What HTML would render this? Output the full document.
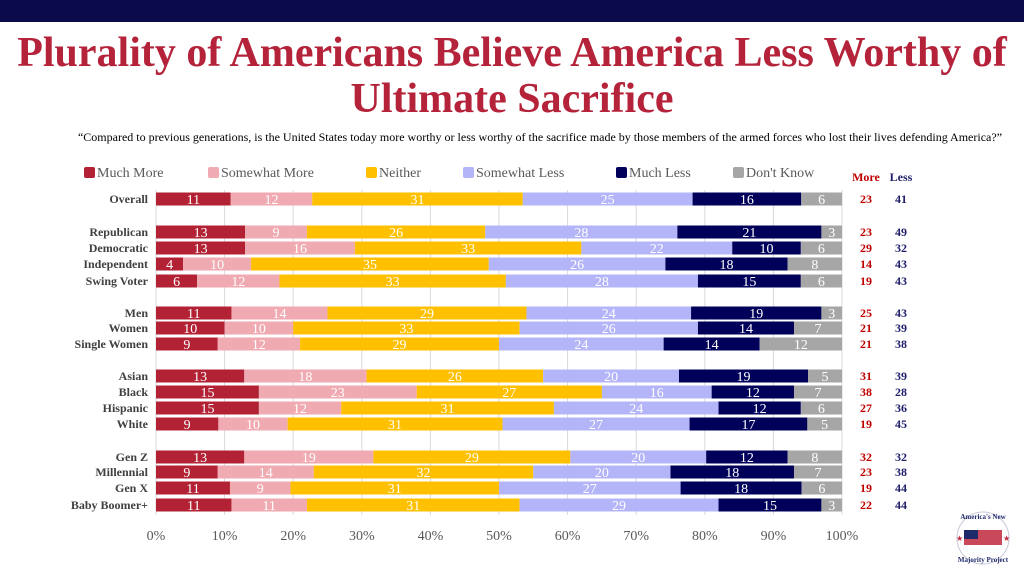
<!DOCTYPE html>
<html><head><meta charset="utf-8">
<style>
body{margin:0;width:1024px;height:576px;overflow:hidden;background:#fff;font-family:"Liberation Serif",serif;position:relative}
#topbar{position:absolute;left:0;top:0;width:1024px;height:22px;background:#0b0b4b}
#title{position:absolute;left:0;top:30px;width:1024px;text-align:center;color:#b5233a;font-weight:bold;font-size:42px;line-height:46px;white-space:nowrap}
#subtitle{position:absolute;left:28px;top:130px;width:1024px;text-align:center;font-size:12px;color:#000;white-space:nowrap}
svg{position:absolute;left:0;top:0}
</style></head><body>
<div id="topbar"></div>
<div id="title">Plurality of Americans Believe America Less Worthy of<br>Ultimate Sacrifice</div>
<div id="subtitle">“Compared to previous generations, is the United States today more worthy or less worthy of the sacrifice made by those members of the armed forces who lost their lives defending America?”</div>
<svg id="chart" width="1024" height="576"></svg>
<script>
const categories=["Overall","Republican","Democratic","Independent","Swing Voter","Men","Women","Single Women","Asian","Black","Hispanic","White","Gen Z","Millennial","Gen X","Baby Boomer+"];
const rowY=[199,232,248,264,281,313,328,344,376,392,408,424,457,472,488,505];
const seriesNames=["Much More","Somewhat More","Neither","Somewhat Less","Much Less","Don't Know"];
const muchMore=[11,13,13,4,6,11,10,9,13,15,15,9,13,9,11,11];
const somewhatMore=[12,9,16,10,12,14,10,12,18,23,12,10,19,14,9,11];
const neither=[31,26,33,35,33,29,33,29,26,27,31,31,29,32,31,31];
const somewhatLess=[25,28,22,26,28,24,26,24,20,16,24,27,20,20,27,29];
const muchLess=[16,21,10,18,15,19,14,14,19,12,12,17,12,18,18,15];
const dontKnow=[6,3,6,8,6,3,7,12,5,7,6,5,8,7,6,3];
const moreTotals=[23,23,29,14,19,25,21,21,31,38,27,19,32,23,19,22];
const lessTotals=[41,49,32,43,43,43,39,38,39,28,36,45,32,38,44,44];
const tickLabels=["0%","10%","20%","30%","40%","50%","60%","70%","80%","90%","100%"];
const colors=["#b22234","#f0aab2","#ffc000","#b4b4f8","#00005a","#a6a6a6"];
const series=[muchMore,somewhatMore,neither,somewhatLess,muchLess,dontKnow];
const svg=document.getElementById('chart');
const NS="http://www.w3.org/2000/svg";
const x0=156,x1=842;
const xs=p=>x0+(x1-x0)*p/100;
function mk(t,a){const e=document.createElementNS(NS,t);for(const k in a)e.setAttribute(k,a[k]);svg.appendChild(e);return e;}
tickLabels.forEach((t,i)=>{
  const x=xs(i*10);
  const g=mk('line',{x1:x,x2:x,y1:190,y2:515,stroke:'#d9d9d9','stroke-width':1});
  
  
  const tx=mk('text',{x:x,y:540,'text-anchor':'middle','font-size':14,fill:'#595959'});
  tx.textContent=t;
  
  
});
categories.forEach((c,r)=>{
  const y=rowY[r];
  const lb=mk('text',{x:148,y:y+4,'text-anchor':'end','font-size':12,'font-weight':'bold',fill:'#404040'});
  lb.textContent=c;
  
  
  let tot=0;series.forEach(s=>tot+=s[r]);
  let acc=0;
  series.forEach((s,si)=>{
    const v=s[r];
    const xa=xs(acc/tot*100),xb=xs((acc+v)/tot*100);
    const b=mk('rect',{x:xa,y:y-6.5,width:xb-xa,height:13,fill:colors[si]});
    
    
    const t=mk('text',{x:(xa+xb)/2,y:y+5,'text-anchor':'middle','font-size':14,fill:'#fff'});
    t.textContent=v;
    
    
    acc+=v;
  });
  const m=mk('text',{x:866,y:y+4,'text-anchor':'middle','font-size':12,'font-weight':'bold',fill:'#c00000'});
  m.textContent=moreTotals[r];
  
  
  const l=mk('text',{x:901,y:y+4,'text-anchor':'middle','font-size':12,'font-weight':'bold',fill:'#1f1f6b'});
  l.textContent=lessTotals[r];
  
  
});
const legX=[84,208,366,463,616,733];
seriesNames.forEach((n,i)=>{
  const r=mk('rect',{x:legX[i],y:167,width:11,height:11,rx:2,fill:colors[i]});
  
  
  const t=mk('text',{x:legX[i]+13,y:177,'font-size':14,fill:'#595959'});
  t.textContent=n;
  
  
});
const hm=mk('text',{x:866,y:181,'text-anchor':'middle','font-size':12,'font-weight':'bold',fill:'#c00000'});
hm.textContent="More";


const hl=mk('text',{x:901,y:181,'text-anchor':'middle','font-size':12,'font-weight':'bold',fill:'#1f1f6b'});
hl.textContent="Less";


</script>
<svg width="1024" height="576" style="pointer-events:none">
  <circle cx="983" cy="538" r="26" fill="none" stroke="#c8c8d8" stroke-width="1"/>
  <rect x="964" y="530" width="38" height="15" fill="#c0283c" opacity="0.85"/>
  <rect x="964" y="530" width="14" height="9" fill="#1f2a6b"/>
  <text x="983" y="519" text-anchor="middle" font-size="7" font-weight="bold" fill="#1f2a6b">America's New</text>
  <text x="983" y="562" text-anchor="middle" font-size="7" font-weight="bold" fill="#1f2a6b">Majority Project</text>
  <text x="956" y="541" font-size="8" fill="#c0283c">★</text>
  <text x="1003" y="541" font-size="8" fill="#c0283c">★</text>
</svg>
</body></html>
